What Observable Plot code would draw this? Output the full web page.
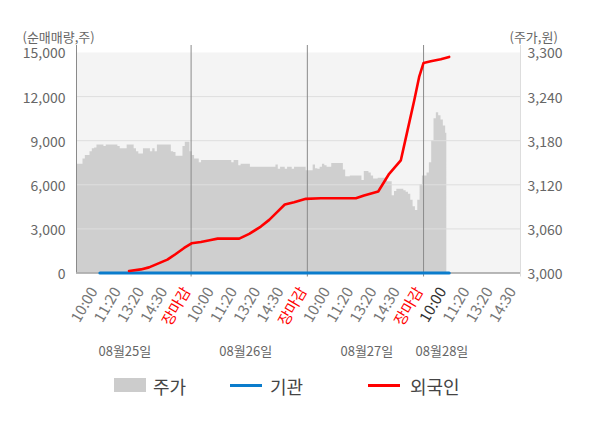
<!DOCTYPE html>
<html><head><meta charset="utf-8">
<script src="https://cdn.jsdelivr.net/npm/d3@7"></script>
<script src="https://cdn.jsdelivr.net/npm/@observablehq/plot@0.6"></script>
<style>
body{margin:0;background:#fff;font-family:"Noto Sans CJK KR","Noto Sans",sans-serif;}
#wrap{position:relative;width:600px;height:428px;overflow:hidden;}
.t{position:absolute;top:373px;line-height:26px;font-size:18px;color:#444;white-space:nowrap;}
.sw{position:absolute;}
</style></head><body><div id="wrap"></div>
<script>
// 주가 (price, won) sampled every 0.1 tick-unit, starting at 0.1
const priceValues = [
3148,3148,3148,3155,3160,3160,3165,3169,3170,3174,
3174,3174,3172,3174,3174,3174,3174,3174,3172,3169,
3169,3169,3174,3174,3174,3169,3165,3162,3162,3169,
3169,3169,3165,3169,3165,3174,3174,3174,3174,3174,
3174,3165,3164,3159,3159,3159,3172,3178,3178,3165,
3160,3155,3155,3150,3153,3153,3153,3153,3153,3153,
3153,3153,3153,3153,3153,3153,3153,3150,3153,3153,
3146,3148,3148,3148,3148,3144,3144,3144,3144,3144,
3144,3144,3144,3144,3144,3144,3147,3141,3144,3144,
3141,3144,3144,3141,3144,3144,3144,3144,3144,3139,
3139,3139,3147,3142,3141,3144,3148,3146,3144,3144,
3149,3149,3149,3149,3149,3140,3131,3131,3132,3132,
3132,3132,3132,3126,3138,3138,3136,3132,3128,3128,
3129,3129,3129,3129,3124,3124,3105,3111,3114,3114,
3114,3112,3110,3107,3099,3090,3085,3099,3120,3132,
3132,3136,3150,3180,3210,3218,3214,3208,3200,3190
];
const priceStart = 0.1, priceStep = 0.1;

// 외국인 cumulative net buying (shares)
const foreignTimes  = [2.33,2.84,3.19,3.70,3.98,4.34,4.70,5.02,5.42,5.85,6.14,7.07,7.50,8.00,8.36,8.72,9.03,9.43,9.94,10.58,12.09,12.44,13.05,13.52,14.02,14.31,14.60,14.81,15.00,15.31,15.74,16.10];
const foreignValues = [136,245,382,723,907,1295,1704,2018,2113,2250,2339,2339,2659,3157,3613,4180,4657,4814,5045,5086,5086,5270,5543,6750,7657,9702,11747,13336,14290,14406,14543,14700];

// 기관 cumulative net buying (shares)
const instTimes  = [1.08, 16.10];
const instValues = [0, 0];

// axes
const leftTicks = [0,3000,6000,9000,12000,15000];
const priceMin = 3000, priceMax = 3300;
const volMax = 15000;
const dayTimeLabels = ["10:00","11:20","13:20","14:30","장마감"];
const dayCount = 4;
const lastDayLabels = 4;
const dayNames = ["08월25일","08월26일","08월27일","08월28일"];
const dayNamePos = [2.15, 7.35, 12.56, 15.79];
const xDomain = [0.07, 19.17];

const ratio = volMax / (priceMax - priceMin);
const priceData = priceValues.map((p, i) => ({t: priceStart + i*priceStep, v: (p - priceMin) * ratio}));
const foreignData = foreignTimes.map((t, i) => ({t, v: foreignValues[i]}));
const instData = instTimes.map((t, i) => ({t, v: instValues[i]}));
const tickData = [];
for (let d = 0; d < dayCount; d++) {
  const n = d === dayCount - 1 ? lastDayLabels : dayTimeLabels.length;
  for (let k = 0; k < n; k++) {
    tickData.push({t: d*5 + k + 1, label: dayTimeLabels[k],
      color: k === 4 ? "#ff0000" : (d === dayCount - 1 && k === 0 ? "#333333" : "#777777")});
  }
}
const dayData = dayNames.map((n, i) => ({t: dayNamePos[i], label: n}));
const closeLines = [5, 10, 15];

const chart = Plot.plot({
  width: 600, height: 370,
  marginLeft: 76, marginRight: 80, marginTop: 52, marginBottom: 97.5,
  style: {fontFamily: '"Noto Sans CJK KR","Noto Sans",sans-serif', fontSize: "14px", color: "#666", background: "transparent"},
  x: {type: "linear", domain: xDomain, axis: null},
  y: {domain: [0, volMax], axis: null},
  marks: [
    Plot.frame({fill: "#f4f4f4", stroke: null}),
    Plot.areaY(priceData, {x: "t", y: "v", fill: "#cfcfcf", curve: "step"}),
    Plot.ruleY([3000, 6000, 9000, 12000], {stroke: "#dedede", strokeWidth: 1}),
    Plot.ruleX(closeLines, {stroke: "#8a8a8a", strokeWidth: 1, insetTop: -7, insetBottom: -4}),
    Plot.ruleX([xDomain[0]], {stroke: "#8a8a8a", strokeWidth: 1, insetTop: -7}),
    Plot.ruleX([xDomain[1]], {stroke: "#dddddd", strokeWidth: 1, insetTop: -7, insetBottom: -4}),
    Plot.ruleY([0], {stroke: "#a0a0a0", strokeWidth: 1.5}),
    Plot.axisY({anchor: "left", label: null, ticks: leftTicks, tickSize: 0, tickPadding: 11, dy: 1.5, tickFormat: d3.format(","), fill: "#666", fontSize: 14}),
    Plot.axisY({anchor: "right", label: null, ticks: leftTicks, tickSize: 0, tickPadding: 7, dy: 1.5, tickFormat: v => d3.format(",")(priceMin + v / ratio), fill: "#666", fontSize: 14}),
    Plot.lineY(instData, {x: "t", y: "v", stroke: "#0a7ccc", strokeWidth: 3.2}),
    Plot.lineY(foreignData, {x: "t", y: "v", stroke: "#ff0000", strokeWidth: 2.6}),
    Plot.text(tickData, {x: "t", text: "label", fill: "color", frameAnchor: "bottom", rotate: -60, textAnchor: "end", dy: 18, fontSize: 15}),
    Plot.text(dayData, {x: "t", text: "label", frameAnchor: "bottom", dy: 82.5, fill: "#666", fontSize: 13}),
    Plot.text(["(순매매량,주)"], {frameAnchor: "top-left", textAnchor: "start", dx: -54, dy: -19.5, fill: "#666", fontSize: 13}),
    Plot.text(["(주가,원)"], {frameAnchor: "top-right", textAnchor: "start", dx: -11, dy: -19.5, fill: "#666", fontSize: 13})
  ]
});
const wrap = document.getElementById("wrap");
chart.style.position = "absolute"; chart.style.left = "0"; chart.style.top = "0";
wrap.appendChild(chart);

const legend = [
  {name: "주가", kind: "rect", color: "#cccccc", sx: 114, tx: 153},
  {name: "기관", kind: "line", color: "#0a7ccc", sx: 230, tx: 270},
  {name: "외국인", kind: "line", color: "#ff0000", sx: 368, tx: 410}
];
legend.forEach(l => {
  const s = document.createElement("div");
  s.className = "sw";
  s.style.left = l.sx + "px"; s.style.width = "32px"; s.style.background = l.color;
  if (l.kind === "rect") { s.style.top = "378px"; s.style.height = "14px"; }
  else { s.style.top = "384px"; s.style.height = "3px"; }
  wrap.appendChild(s);
  const t = document.createElement("div");
  t.className = "t"; t.style.left = l.tx + "px"; t.textContent = l.name;
  wrap.appendChild(t);
});
</script></body></html>
